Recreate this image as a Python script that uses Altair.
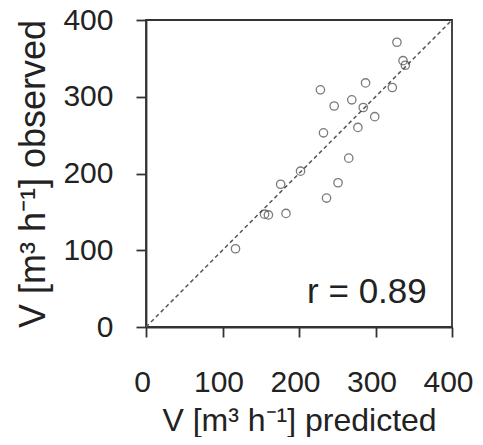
import altair as alt
import pandas as pd

predicted = [328, 336, 339, 287, 322, 228, 269, 246, 284, 299, 277, 232, 265, 202, 176, 251, 236, 155, 160, 183, 117]
observed  = [371, 347, 341, 318, 312, 309, 296, 288, 286, 274, 260, 253, 220, 203, 186, 188, 168, 147, 146, 148, 102]

line_x = [0, 400]
line_y = [0, 400]

label_text = ["r = 0.89"]
label_x = [367]
label_y = [31]

pts = pd.DataFrame({"pred": predicted, "obs": observed})
ln = pd.DataFrame({"pred": line_x, "obs": line_y})
lab = pd.DataFrame({"pred": label_x, "obs": label_y, "t": label_text})

FONT = "Liberation Sans"

xscale = alt.Scale(domain=[0, 400], nice=False, zero=True)
yscale = alt.Scale(domain=[0, 400], nice=False, zero=True)

xaxis = alt.Axis(
    title="V [m³ h⁻¹] predicted", values=[0, 100, 200, 300, 400], grid=False,
    tickSize=10, labelPadding=30, labelFontSize=30, titleFontSize=32,
    labelFlush=False, labelOverlap=False, labelBound=False, labelOffset=-4,
    titleY=93, titleBaseline="middle", titleFontWeight="normal",
)
yaxis = alt.Axis(
    title="V [m³ h⁻¹] observed", values=[0, 100, 200, 300, 400], grid=False,
    tickSize=10, labelPadding=23, labelFontSize=30, titleFontSize=36,
    labelFlush=False, labelOverlap=False,
    titleX=-113, titleBaseline="middle", titleFontWeight="normal",
)

base_x = alt.X("pred:Q", scale=xscale, axis=xaxis)
base_y = alt.Y("obs:Q", scale=yscale, axis=yaxis)

line = alt.Chart(ln).mark_line(color="#555555", strokeDash=[4, 3], strokeWidth=1.5).encode(
    x=base_x, y=base_y
)
points = alt.Chart(pts).mark_point(shape="circle", filled=False, color="#444444", size=70, strokeWidth=1.3).encode(
    x="pred:Q", y="obs:Q"
)
text = alt.Chart(lab).mark_text(align="right", baseline="alphabetic", fontSize=35, font=FONT, color="#222222").encode(
    x="pred:Q", y="obs:Q", text="t:N"
)

chart = alt.layer(line, points, text).properties(
    width=306, height=307,
    padding={"left": 138, "top": 12, "right": 22, "bottom": 110},
    autosize=alt.AutoSizeParams(type="none"),
).configure_view(
    stroke="#333333", strokeWidth=1.8
).configure_axis(
    labelFont=FONT, titleFont=FONT, labelColor="#222222", titleColor="#222222",
    domainColor="#333333", tickColor="#333333", domainWidth=1.8, tickWidth=1.8,
)

chart.save("out.html", embed_options={"renderer": "svg", "actions": False})
